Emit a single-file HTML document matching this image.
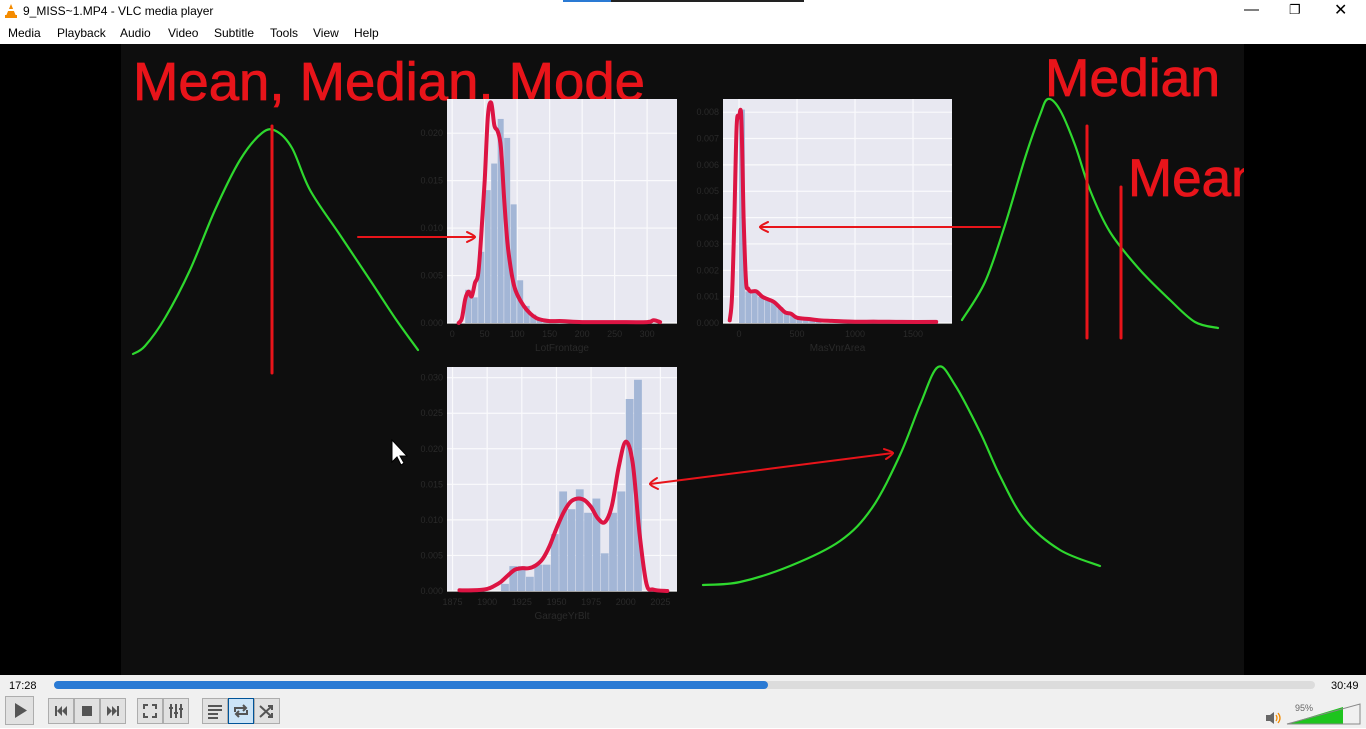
<!DOCTYPE html>
<html><head><meta charset="utf-8">
<style>
html,body{margin:0;padding:0;width:1366px;height:728px;overflow:hidden;background:#fff;font-family:"Liberation Sans",sans-serif;}
#titlebar{position:absolute;left:0;top:0;width:1366px;height:22px;background:#fff;font-size:12px;}
#menubar{position:absolute;left:0;top:22px;width:1366px;height:22px;background:#fff;font-size:12px;}
#menubar span{position:absolute;top:4px;}
#video{position:absolute;left:0;top:44px;width:1366px;height:631px;background:#000;}
#controls{position:absolute;left:0;top:675px;width:1366px;height:53px;background:#f0f0f0;}
.btn{position:absolute;top:23px;height:26px;width:26px;border:1px solid #adadad;background:#e1e1e1;box-sizing:border-box;}
</style></head><body>
<div id="titlebar">
  <svg style="position:absolute;left:4px;top:3px" width="14" height="16"><polygon points="7,1 12,13 2,13" fill="#f48b00"/><rect x="1" y="12" width="12" height="3" fill="#f48b00"/><rect x="4" y="6" width="6" height="2" fill="#fff"/></svg>
  <span style="position:absolute;left:23px;top:4px">9_MISS~1.MP4 - VLC media player</span>
  <div style="position:absolute;left:563px;top:0;width:48px;height:2px;background:#2a7ad4"></div>
  <div style="position:absolute;left:611px;top:0;width:193px;height:2px;background:#222"></div>
  <span style="position:absolute;left:1244px;top:1px;font-size:15px">&#8212;</span>
  <span style="position:absolute;left:1289px;top:2px;font-size:13px">&#10064;</span>
  <span style="position:absolute;left:1334px;top:0px;font-size:16px">&#10005;</span>
</div>
<div id="menubar">
  <span style="left:8px">Media</span>
  <span style="left:57px">Playback</span>
  <span style="left:120px">Audio</span>
  <span style="left:168px">Video</span>
  <span style="left:214px">Subtitle</span>
  <span style="left:270px">Tools</span>
  <span style="left:313px">View</span>
  <span style="left:354px">Help</span>
</div>
<div id="video">
<svg id="vs" width="1366" height="631" viewBox="0 44 1366 631" style="position:absolute;left:0;top:0" font-family="Liberation Sans, sans-serif">
  <rect x="121" y="44" width="1123" height="631" fill="#0e0e0e"/>
  <text x="133" y="100" font-size="54" textLength="512" lengthAdjust="spacingAndGlyphs" fill="#e8141a" stroke="#e8141a" stroke-width="0.8">Mean, Median, Mode</text>
  <g id="charts"></g>
  <g id="annot"></g>
  <text x="1045" y="96" font-size="53" textLength="175" lengthAdjust="spacingAndGlyphs" fill="#e8141a" stroke="#e8141a" stroke-width="0.8">Median</text>
  <text x="1128" y="196" font-size="53" fill="#e8141a" stroke="#e8141a" stroke-width="0.8">Mean</text>
  <rect x="1244" y="44" width="122" height="631" fill="#000"/>
  <polygon points="392,440 392,462 397,457 401,465 404,463 400,456 407,456" fill="#fff" stroke="#000" stroke-width="1"/>
</svg>
</div>
<div id="controls">
  <span style="position:absolute;left:9px;top:5px;font-size:11px">17:28</span>
  <div style="position:absolute;left:54px;top:6px;width:1261px;height:8px;border-radius:4px;background:#dcdcdc">
    <div style="width:714px;height:8px;border-radius:4px;background:#2a7ad4"></div></div>
  <span style="position:absolute;left:1331px;top:5px;font-size:11px">30:49</span>
  <div class="btn" style="left:5px;width:29px;height:29px;top:21px"><svg width="27" height="27"><polygon points="9,6 21,13.5 9,21" fill="#555"/></svg></div>
  <div class="btn" style="left:48px"><svg width="24" height="24"><rect x="6" y="7" width="2" height="10" fill="#555"/><polygon points="13,7 8,12 13,17" fill="#555"/><polygon points="18,7 13,12 18,17" fill="#555"/></svg></div>
  <div class="btn" style="left:74px"><svg width="24" height="24"><rect x="7" y="7" width="10" height="10" fill="#555"/></svg></div>
  <div class="btn" style="left:100px"><svg width="24" height="24"><polygon points="6,7 11,12 6,17" fill="#555"/><polygon points="11,7 16,12 11,17" fill="#555"/><rect x="16" y="7" width="2" height="10" fill="#555"/></svg></div>
  <div class="btn" style="left:137px"><svg width="24" height="24" fill="none" stroke="#555" stroke-width="2"><path d="M6 10V6h4M14 6h4v4M18 14v4h-4M10 18H6v-4"/></svg></div>
  <div class="btn" style="left:163px"><svg width="24" height="24" stroke="#555" stroke-width="2"><path d="M7 5v14M12 5v14M17 5v14M5 9h4M10 14h4M15 10h4"/></svg></div>
  <div class="btn" style="left:202px"><svg width="24" height="24" stroke="#555" stroke-width="2"><path d="M5 7h14M5 11h14M5 15h10M5 19h10"/></svg></div>
  <div class="btn" style="left:228px;background:#cce4f7;border-color:#005499"><svg width="24" height="24" fill="none" stroke="#555" stroke-width="2"><path d="M6 13V9h11M14 6l3 3-3 3M18 11v4H7M10 18l-3-3 3-3"/></svg></div>
  <div class="btn" style="left:254px"><svg width="24" height="24" fill="none" stroke="#555" stroke-width="2"><path d="M5 7l12 11M5 18L17 7M13 7h4v4M13 18h4v-4"/></svg></div>
  <svg style="position:absolute;left:1265px;top:36px" width="16" height="14"><rect x="1" y="4" width="4" height="6" fill="#666"/><polygon points="5,4 9,1 9,13 5,10" fill="#666"/><path d="M11 4q2 3 0 6M13 2q4 5 0 10" stroke="#f48b00" fill="none" stroke-width="1.3"/></svg>
  <span style="position:absolute;left:1295px;top:28px;font-size:9px;color:#666">95%</span>
  <svg style="position:absolute;left:1286px;top:28px" width="76" height="22">
    <polygon points="1,21 57,4 57,21" fill="#1ec41e"/><polygon points="1,21 74,1 74,21" fill="none" stroke="#888"/></svg>
</div>
<script>
// Chart 1: LotFrontage
const lfBinStart = [20,30,40,50,60,70,80,90,100,110,120,130,140];
const lfBinValues = [0.0035,0.0027,0.0075,0.014,0.0168,0.0215,0.0195,0.0125,0.0045,0.0018,0.0009,0.0004,0.0002];
const lfKdeX = [10,15,20,25,30,35,40,45,50,55,60,65,70,75,80,85,90,95,100,110,120,130,140,150,170,200,250,300,310,320];
const lfKdeY = [0,0.0005,0.0025,0.0033,0.0028,0.0042,0.0052,0.0095,0.015,0.0218,0.0232,0.0208,0.0202,0.0185,0.013,0.0085,0.0058,0.004,0.003,0.0018,0.001,0.0005,0.0003,0.0002,0.0002,0.0001,0.0001,0.0001,0.0003,0.0001];
const lfTicks = [0,50,100,150,200,250,300];
const lfYTicks = [0,0.005,0.010,0.015,0.020];
const lfYLabels = ["0.000","0.005","0.010","0.015","0.020"];
// Chart 2: MasVnrArea
const mvBinStart = [0,55,110,165,220,275,330,385,440,495,550,605,660];
const mvBinValues = [0.0081,0.0012,0.0012,0.001,0.0009,0.0008,0.0006,0.0004,0.0003,0.0002,0.00015,0.0001,0.0001];
const mvKdeX = [-80,-60,-40,-20,0,20,40,60,80,100,150,200,250,300,350,400,450,500,600,700,800,1000,1200,1400,1700];
const mvKdeY = [0.0001,0.001,0.004,0.0075,0.0078,0.0078,0.004,0.0016,0.0013,0.0012,0.0012,0.001,0.0009,0.0008,0.0006,0.0004,0.00035,0.0002,0.00015,0.0001,0.00008,0.00005,0.00005,0.00004,0.00004];
const mvTicks = [0,500,1000,1500];
const mvYTicks = [0,0.001,0.002,0.003,0.004,0.005,0.006,0.007,0.008];
const mvYLabels = ["0.000","0.001","0.002","0.003","0.004","0.005","0.006","0.007","0.008"];
// Chart 3: GarageYrBlt
const gyBinStart = [1910,1916,1922,1928,1934,1940,1946,1952,1958,1964,1970,1976,1982,1988,1994,2000,2006];
const gyBinValues = [0.001,0.0035,0.0035,0.002,0.0037,0.0037,0.008,0.014,0.0115,0.0143,0.011,0.013,0.0053,0.011,0.014,0.027,0.0297];
const gyKdeX = [1880,1890,1900,1905,1910,1915,1920,1925,1930,1935,1940,1945,1950,1955,1960,1965,1970,1975,1980,1985,1990,1995,2000,2005,2010,2015,2020,2030];
const gyKdeY = [0.0001,0.0001,0.0003,0.0007,0.0013,0.0022,0.003,0.0032,0.0032,0.0036,0.0045,0.0063,0.0088,0.011,0.0125,0.013,0.0128,0.0118,0.0102,0.0097,0.012,0.0175,0.021,0.018,0.008,0.001,0.0002,0];
const gyTicks = [1875,1900,1925,1950,1975,2000,2025];
const gyYTicks = [0,0.005,0.010,0.015,0.020,0.025,0.030];
const gyYLabels = ["0.000","0.005","0.010","0.015","0.020","0.025","0.030"];

const NS = "http://www.w3.org/2000/svg";
const chartsG = document.getElementById('charts');
function mk(tag, attrs, parent){const e=document.createElementNS(NS,tag);for(const k in attrs)e.setAttribute(k,attrs[k]);parent.appendChild(e);return e;}
function smooth(pts){
  let d='M'+pts[0][0]+' '+pts[0][1];
  for(let i=0;i<pts.length-1;i++){
    const p0=pts[Math.max(0,i-1)],p1=pts[i],p2=pts[i+1],p3=pts[Math.min(pts.length-1,i+2)];
    const c1=[p1[0]+(p2[0]-p0[0])/6,p1[1]+(p2[1]-p0[1])/6];
    const c2=[p2[0]-(p3[0]-p1[0])/6,p2[1]-(p3[1]-p1[1])/6];
    d+=' C'+c1[0].toFixed(1)+' '+c1[1].toFixed(1)+' '+c2[0].toFixed(1)+' '+c2[1].toFixed(1)+' '+p2[0].toFixed(1)+' '+p2[1].toFixed(1);
  }
  return d;
}

function drawChart(cfg){
  const g = mk('g',{},chartsG);
  
  
  const sx = v => cfg.x0 + (v - cfg.xmin)/(cfg.xmax - cfg.xmin)*cfg.w;
  const sy = v => cfg.y0 + cfg.h - (v/cfg.ymax)*cfg.h;
  const bg = mk('rect',{x:cfg.x0,y:cfg.y0,width:cfg.w,height:cfg.h,fill:'#e8e8f1'},g);
  
  
  cfg.xticks.forEach(t=>{
    mk('line',{x1:sx(t),x2:sx(t),y1:cfg.y0,y2:cfg.y0+cfg.h,stroke:'#fafafc','stroke-width':1.2},g);
    const tx = mk('text',{x:sx(t),y:cfg.y0+cfg.h+14,'font-size':9,fill:'#2a2a2a','text-anchor':'middle'},g);
    tx.textContent = t;
    
    
  });
  cfg.yticks.forEach((t,i)=>{
    mk('line',{x1:cfg.x0,x2:cfg.x0+cfg.w,y1:sy(t),y2:sy(t),stroke:'#fafafc','stroke-width':1.2},g);
    const tx = mk('text',{x:cfg.x0-4,y:sy(t)+3,'font-size':9,fill:'#2a2a2a','text-anchor':'end'},g);
    tx.textContent = cfg.ylabels[i];
    
    
  });
  cfg.bins.forEach((b,i)=>{
    const r = mk('rect',{x:sx(b),y:sy(cfg.vals[i]),width:sx(b+cfg.bw)-sx(b)-0.5,height:sy(0)-sy(cfg.vals[i]),fill:'#a3b6d6'},g);
    
    
  });
  const pts = cfg.kx.map((x,i)=>[sx(x),sy(cfg.ky[i])]);
  const p = mk('path',{d:smooth(pts),fill:'none',stroke:'#dc1443','stroke-width':4,'stroke-linejoin':'round','stroke-linecap':'round'},g);
  
  
  const xl = mk('text',{x:cfg.x0+cfg.w/2,y:cfg.y0+cfg.h+28,'font-size':10,fill:'#2a2a2a','text-anchor':'middle'},g);
  xl.textContent = cfg.xlabel;
  
  
}
drawChart({name:'lotfrontage-chart',x0:447,y0:99,w:230,h:224,xmin:-8,xmax:346,ymax:0.0236,xticks:lfTicks,yticks:lfYTicks,ylabels:lfYLabels,bins:lfBinStart,bw:10,vals:lfBinValues,kx:lfKdeX,ky:lfKdeY,xlabel:'LotFrontage'});
drawChart({name:'masvnrarea-chart',x0:723,y0:99,w:229,h:224,xmin:-138,xmax:1836,ymax:0.0085,xticks:mvTicks,yticks:mvYTicks,ylabels:mvYLabels,bins:mvBinStart,bw:55,vals:mvBinValues,kx:mvKdeX,ky:mvKdeY,xlabel:'MasVnrArea'});
drawChart({name:'garageyrblt-chart',x0:447,y0:367,w:230,h:224,xmin:1871,xmax:2037,ymax:0.0315,xticks:gyTicks,yticks:gyYTicks,ylabels:gyYLabels,bins:gyBinStart,bw:6,vals:gyBinValues,kx:gyKdeX,ky:gyKdeY,xlabel:'GarageYrBlt'});

// hand-drawn annotations
const an = document.getElementById('annot');
function curve(str,color,w,name){
  const pts=str.split(' ').map(s=>s.split(',').map(Number));
  const e=mk('path',{d:smooth(pts),fill:'none',stroke:color,'stroke-width':w,'stroke-linejoin':'round','stroke-linecap':'round'},an);
  
  
}
curve("133,354 145,346 165,318 190,270 215,210 240,160 262,133 276,131 292,148 310,190 340,235 370,280 395,318 418,350",'#2ed82e',2.2,'symmetric-curve');
curve("272,126 272,373",'#e8141a',3,'mean-line');
curve("962,320 985,282 1005,225 1025,158 1040,115 1048,99 1060,110 1075,145 1090,190 1110,232 1140,270 1170,300 1195,322 1218,328",'#2ed82e',2.2,'right-skew-curve');
curve("1087,126 1087,338",'#e8141a',3,'median-line');
curve("1121,187 1121,338",'#e8141a',3,'mean-line-right');
curve("703,585 740,582 790,566 840,541 872,508 900,455 920,405 938,367 955,385 980,432 1000,476 1025,520 1060,550 1100,566",'#2ed82e',2.2,'left-skew-curve');
curve("358,237 475,237",'#e8141a',2,'arrow-1');
curve("467,232 475,237 467,242",'#e8141a',2,'arrow-1-head');
curve("1000,227 760,227",'#e8141a',2,'arrow-2');
curve("768,222 760,227 768,232",'#e8141a',2,'arrow-2-head');
curve("893,453 650,484",'#e8141a',2,'arrow-3');
curve("657,478 650,484 658,489",'#e8141a',2,'arrow-3-head-left');
curve("884,449 893,453 886,459",'#e8141a',2,'arrow-3-head-right');
</script>
</body></html>
